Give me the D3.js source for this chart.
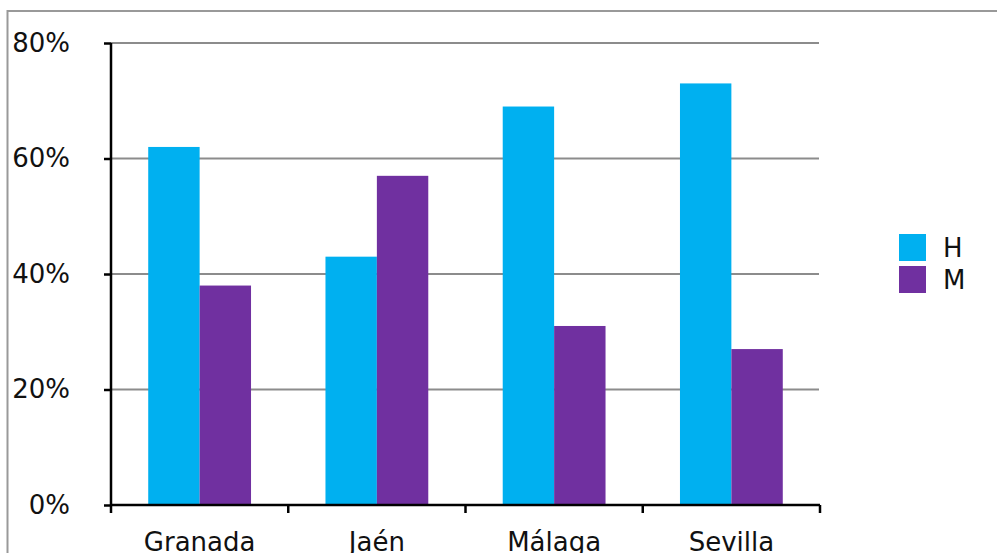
<!DOCTYPE html>
<html>
<head>
<meta charset="utf-8">
<script src="https://cdn.jsdelivr.net/npm/d3@7"></script>
<style>
html,body{margin:0;padding:0;background:#fff;overflow:hidden;}
svg{display:block;font-family:"DejaVu Sans",Verdana,sans-serif;}
</style>
</head>
<body>
<svg id="chart" width="997" height="553"></svg>
<script>
const categories = ["Granada", "Jaén", "Málaga", "Sevilla"];
const seriesNames = ["H", "M"];
const valuesH = [0.62, 0.43, 0.69, 0.73];
const valuesM = [0.38, 0.57, 0.31, 0.27];
const yTicks = [0, 0.2, 0.4, 0.6, 0.8];
const colors = ["#00B0F0", "#7030A0"];

(function () {
const series = [valuesH, valuesM];
const svg = d3.select("#chart");

// outer border
svg.append("rect").attr("x", 7.5).attr("y", 11).attr("width", 1100).attr("height", 700)
  .attr("fill", "none").attr("stroke", "#999").attr("stroke-width", 2);

const pLeft = 111, pRight = 820, pTop = 43, pBottom = 505;
const x0 = d3.scaleBand().domain(categories).range([pLeft, pRight]).paddingInner(0.42).paddingOuter(0.21);
const x1 = d3.scaleBand().domain(seriesNames).range([0, x0.bandwidth()]);
const y = d3.scaleLinear().domain([0, 0.8]).range([pBottom, pTop]);

// gridlines
svg.append("g").selectAll("line").data(yTicks.filter(d => d > 0)).join("line")
  .attr("x1", pLeft).attr("x2", pRight - 1)
  .attr("y1", d => y(d)).attr("y2", d => y(d))
  .attr("stroke", "#8c8c8c").attr("stroke-width", 2);

// bars
const g = svg.append("g");
categories.forEach((c, i) => {
  seriesNames.forEach((s, j) => {
    g.append("rect")
      .attr("x", x0(c) + x1(s))
      .attr("y", y(series[j][i]))
      .attr("width", x1.bandwidth())
      .attr("height", pBottom - y(series[j][i]))
      .attr("fill", colors[j]);
  });
});

// y axis
const yAxis = d3.axisLeft(y).tickValues(yTicks).tickFormat(d3.format(".0%")).tickSize(7).tickPadding(34);
const ya = svg.append("g").attr("transform", `translate(${pLeft},0)`).call(yAxis);
ya.select(".domain").attr("stroke", "#000").attr("stroke-width", 2.5).attr("d", `M0,${pTop}V${pBottom}`);
ya.selectAll(".tick line").attr("stroke", "#000").attr("stroke-width", 2.5);
ya.selectAll(".tick text").attr("font-size", 26).attr("fill", "#111").attr("font-family", "DejaVu Sans");

// x axis
const xAxis = d3.axisBottom(x0).tickSize(0).tickPadding(28);
const xa = svg.append("g").attr("transform", `translate(0,${pBottom})`).call(xAxis);
xa.select(".domain").attr("stroke", "#000").attr("stroke-width", 2.5).attr("d", `M${pLeft},0H${pRight}`);
xa.selectAll(".tick text").attr("font-size", 26).attr("fill", "#111").attr("font-family", "DejaVu Sans").attr("dy", "0.71em");
// category boundary ticks
const stepW = (pRight - pLeft) / categories.length;
xa.append("g").selectAll("line").data(d3.range(categories.length + 1)).join("line")
  .attr("x1", i => pLeft + i * stepW).attr("x2", i => pLeft + i * stepW)
  .attr("y1", 0).attr("y2", 8).attr("stroke", "#000").attr("stroke-width", 2.5);

// legend
const lg = svg.append("g").attr("transform", "translate(899,234)");
seriesNames.forEach((s, j) => {
  lg.append("rect").attr("x", 0).attr("y", j * 32).attr("width", 27).attr("height", 27).attr("fill", colors[j]);
  lg.append("text").attr("x", 44).attr("y", j * 32 + 13.5).attr("dy", "0.36em")
    .attr("font-size", 26).attr("fill", "#111").text(s);
});
})();
</script>
</body>
</html>
